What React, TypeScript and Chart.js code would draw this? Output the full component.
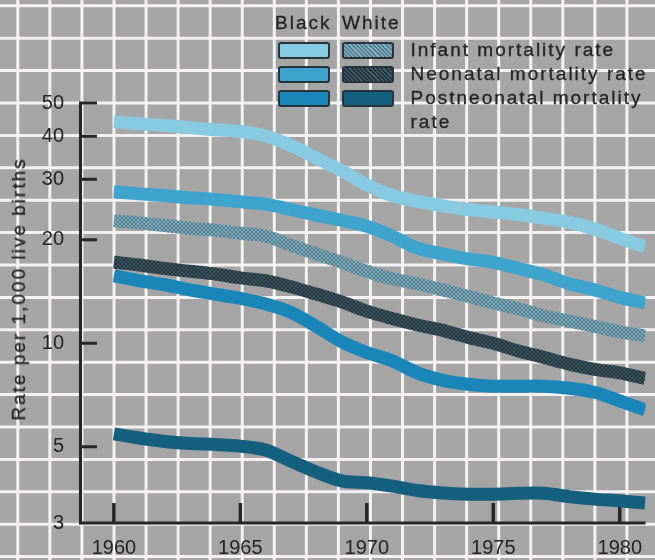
import React, { useEffect, useRef } from "react";
import { Chart, registerables } from "chart.js";

Chart.register(...registerables);

// ---------- data ----------
const years = [1960, 1961, 1962, 1963, 1964, 1965, 1966, 1967, 1968, 1969, 1970, 1971, 1972, 1973, 1974, 1975, 1976, 1977, 1978, 1979, 1980, 1981];
const blackInfant = [44.1, 43.5, 43.0, 42.4, 41.8, 41.3, 40.1, 37.6, 34.6, 31.8, 28.9, 26.9, 25.9, 25.1, 24.5, 24.1, 23.7, 23.1, 22.5, 21.5, 20.2, 19.1];
const blackNeonatal = [27.6, 27.2, 26.9, 26.5, 26.2, 25.8, 25.4, 24.5, 23.6, 22.8, 21.9, 20.5, 18.9, 18.2, 17.6, 17.2, 16.5, 15.8, 14.9, 14.3, 13.6, 13.1];
const blackPostneonatal = [15.7, 15.2, 14.8, 14.3, 13.9, 13.5, 13.0, 12.3, 11.2, 10.1, 9.4, 8.9, 8.2, 7.8, 7.6, 7.5, 7.5, 7.5, 7.4, 7.2, 6.8, 6.4];
const whiteInfant = [22.7, 22.4, 22.0, 21.6, 21.3, 20.9, 20.5, 19.3, 18.2, 17.2, 16.2, 15.4, 14.9, 14.3, 13.7, 13.1, 12.6, 12.0, 11.6, 11.2, 10.8, 10.5];
const whiteNeonatal = [17.2, 16.9, 16.5, 16.2, 15.9, 15.5, 15.2, 14.6, 13.9, 13.2, 12.4, 11.8, 11.3, 10.9, 10.4, 10.0, 9.5, 9.1, 8.7, 8.4, 8.2, 7.9];
const whitePostneonatal = [5.45, 5.3, 5.18, 5.11, 5.08, 5.02, 4.89, 4.54, 4.22, 3.98, 3.93, 3.84, 3.73, 3.67, 3.64, 3.64, 3.66, 3.66, 3.58, 3.52, 3.48, 3.43];

const xTicks = [1960, 1965, 1970, 1975, 1980];
const yTicks = [3, 5, 10, 20, 30, 40, 50];
const legendHeader = ["Black", "White"];
const legendRows = ["Infant mortality rate", "Neonatal mortality rate", "Postneonatal mortality rate"];
const yTitle = "Rate per 1,000 live births";

// ---------- styles ----------
const W = 655;
const H = 560;
const FONT = "'Liberation Sans', Arial, Helvetica, sans-serif";
const TEXT = "#232323";
const BG = "#a5a5a5";
const GRID = "#f3f1f1";
const AXIS = "#262626";
const C_BI = "#88cae0";
const C_BN = "#3ea3cd";
const C_BP = "#1985b9";
const C_WP = "#145f7d";
const WI_A = "#80afbf";
const WI_B = "#537a88";
const WN_A = "#3f5965";
const WN_B = "#21313a";

function makePattern(a: string, b: string): CanvasPattern | string {
  const c = document.createElement("canvas");
  c.width = 4;
  c.height = 4;
  const g = c.getContext("2d");
  if (!g) return a;
  g.fillStyle = a;
  g.fillRect(0, 0, 4, 4);
  g.fillStyle = b;
  for (let i = 0; i < 4; i++) {
    g.fillRect(i, i, 1, 1);
    g.fillRect(i, 3 - i, 1, 1);
  }
  const p = g.createPattern(c, "repeat");
  return p || a;
}

const gridPlugin = {
  id: "paperGrid",
  beforeDraw(chart: any) {
    const ctx = chart.ctx;
    ctx.save();
    ctx.fillStyle = BG;
    ctx.fillRect(0, 0, chart.width, chart.height);
    ctx.strokeStyle = GRID;
    ctx.lineWidth = 3;
    ctx.beginPath();
    for (let x = 17.8; x < chart.width + 4; x += 32.06) {
      ctx.moveTo(x, 0);
      ctx.lineTo(x, chart.height);
    }
    for (let y = 5.8; y < chart.height + 4; y += 32.4) {
      ctx.moveTo(0, y);
      ctx.lineTo(chart.width, y);
    }
    ctx.stroke();
    ctx.restore();
  },
};

const axisPlugin = {
  id: "drawnAxes",
  beforeDatasetsDraw(chart: any) {
    const ctx = chart.ctx;
    const { left, right, bottom } = chart.chartArea;
    const xs = chart.scales.x;
    const ys = chart.scales.y;
    const top = ys.getPixelForValue(yTicks[yTicks.length - 1]);
    ctx.save();
    ctx.strokeStyle = AXIS;
    ctx.lineWidth = 3;
    ctx.lineCap = "butt";
    ctx.beginPath();
    ctx.moveTo(left + 0.5, top - 1.5);
    ctx.lineTo(left + 0.5, bottom + 1.5);
    ctx.moveTo(left - 1, bottom);
    ctx.lineTo(right, bottom);
    for (const v of yTicks) {
      if (v === yTicks[0]) continue;
      const p = ys.getPixelForValue(v);
      ctx.moveTo(left, p);
      ctx.lineTo(left + 17, p);
    }
    ctx.stroke();
    ctx.lineWidth = 3.5;
    ctx.beginPath();
    for (const v of xTicks) {
      const p = xs.getPixelForValue(v);
      ctx.moveTo(p, bottom);
      ctx.lineTo(p, bottom - 20);
    }
    ctx.stroke();
    ctx.restore();
  },
};

function toPoints(arr: number[]) {
  return years.map((yr, i) => ({ x: yr, y: arr[i] }));
}

function ChartCanvas() {
  const ref = useRef<HTMLCanvasElement | null>(null);
  useEffect(() => {
    if (!ref.current) return;
    const wiPat = makePattern(WI_A, WI_B);
    const wnPat = makePattern(WN_A, WN_B);
    const tickFont = { family: FONT, size: 20 };
    const chart = new Chart(ref.current, {
      type: "line",
      data: {
        datasets: [
          { label: "White postneonatal mortality rate", data: toPoints(whitePostneonatal), borderColor: C_WP },
          { label: "Black postneonatal mortality rate", data: toPoints(blackPostneonatal), borderColor: C_BP },
          { label: "White neonatal mortality rate", data: toPoints(whiteNeonatal), borderColor: wnPat as any },
          { label: "White infant mortality rate", data: toPoints(whiteInfant), borderColor: wiPat as any },
          { label: "Black neonatal mortality rate", data: toPoints(blackNeonatal), borderColor: C_BN },
          { label: "Black infant mortality rate", data: toPoints(blackInfant), borderColor: C_BI },
        ],
      },
      options: {
        responsive: false,
        animation: false,
        devicePixelRatio: 1,
        layout: { padding: { top: 103, left: 0, right: 0, bottom: 0 } },
        plugins: { legend: { display: false }, tooltip: { enabled: false }, title: { display: false } },
        elements: {
          point: { radius: 0, hoverRadius: 0 },
          line: {
            borderWidth: 13,
            borderCapStyle: "butt",
            borderJoinStyle: "round",
            tension: 0.3,
            fill: false,
          },
        },
        scales: {
          x: {
            type: "linear",
            min: 1958.66,
            max: 1981.02,
            grid: { display: false, drawTicks: false },
            border: { display: false },
            afterBuildTicks: (s: any) => {
              s.ticks = xTicks.map((v) => ({ value: v }));
            },
            afterFit: (s: any) => {
              s.height = H - 523;
            },
            ticks: {
              callback: (v: any) => String(v),
              font: tickFont,
              color: TEXT,
              padding: 13,
              maxRotation: 0,
              autoSkip: false,
            },
          },
          y: {
            type: "logarithmic",
            min: 3,
            max: 50,
            grid: { display: false, drawTicks: false },
            border: { display: false },
            afterBuildTicks: (s: any) => {
              s.ticks = yTicks.map((v) => ({ value: v }));
            },
            afterFit: (s: any) => {
              s.width = 80;
            },
            ticks: {
              callback: (v: any) => String(v),
              font: tickFont,
              color: TEXT,
              padding: 16,
              autoSkip: false,
            },
          },
        },
      },
      plugins: [gridPlugin, axisPlugin],
    } as any);
    return () => chart.destroy();
  }, []);
  return <canvas ref={ref} width={W} height={H} style={{ display: "block", width: W, height: H }} />;
}

const swatchBase: React.CSSProperties = {
  position: "absolute",
  width: 52,
  height: 17,
  boxSizing: "border-box",
  border: "2.5px solid #25343c",
  borderRadius: 3,
};

const blackSwatches = [C_BI, C_BN, C_BP];
const whiteSwatches = [
  `repeating-linear-gradient(45deg, ${WI_A} 0 1.5px, ${WI_B} 1.5px 3px)`,
  `repeating-linear-gradient(45deg, ${WN_A} 0 1.5px, ${WN_B} 1.5px 3px)`,
  C_WP,
];

const textStyle: React.CSSProperties = {
  position: "absolute",
  fontFamily: FONT,
  fontSize: 19,
  lineHeight: "24px",
  letterSpacing: "2px",
  color: TEXT,
  whiteSpace: "nowrap",
  WebkitTextStroke: "0.3px " + TEXT,
};

export default function App() {
  return (
    <div style={{ position: "fixed", left: 0, top: 0, width: W, height: H, overflow: "hidden", background: BG }}>
      <ChartCanvas />
      <div style={{ ...textStyle, left: 275, top: 10.5 }}>{legendHeader[0]}</div>
      <div style={{ ...textStyle, left: 342, top: 10.5 }}>{legendHeader[1]}</div>
      {blackSwatches.map((c, i) => (
        <div key={"b" + i} style={{ ...swatchBase, left: 278, top: 41.5 + i * 24, background: c }} />
      ))}
      {whiteSwatches.map((c, i) => (
        <div key={"w" + i} style={{ ...swatchBase, left: 342, top: 41.5 + i * 24, background: c }} />
      ))}
      <div style={{ ...textStyle, left: 410.5, top: 38, whiteSpace: "normal", width: 240 }}>
        {legendRows.map((t, i) => (
          <div key={i}>{t}</div>
        ))}
      </div>
      <div
        style={{
          ...textStyle,
          left: 19,
          top: 288.5,
          transform: "translate(-50%, -50%) rotate(-90deg)",
        }}
      >
        {yTitle}
      </div>
    </div>
  );
}
